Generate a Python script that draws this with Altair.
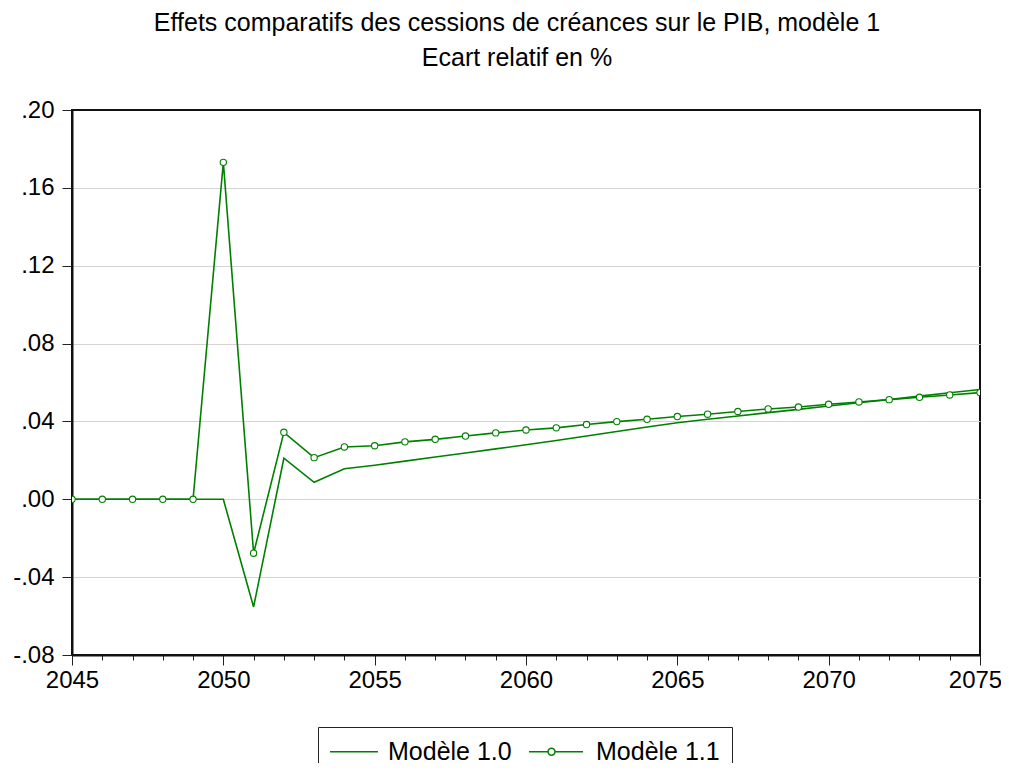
import altair as alt
import pandas as pd

years = list(range(2045, 2076))
modele_10 = [0.0, 0.0, 0.0, 0.0, 0.0, 0.0, -0.0553, 0.0211, 0.0087, 0.0157,
             0.0175, 0.0196, 0.0217, 0.0238, 0.0259, 0.0280, 0.0302, 0.0325, 0.0348, 0.0371,
             0.0393, 0.0411, 0.0428, 0.0445, 0.0462, 0.0479, 0.0496, 0.0513, 0.0530, 0.0547,
             0.0564]
modele_11 = [0.0, 0.0, 0.0, 0.0, 0.0, 0.1731, -0.0277, 0.0344, 0.0214, 0.0269,
             0.0275, 0.0295, 0.0308, 0.0325, 0.0341, 0.0356, 0.0367, 0.0384, 0.0399, 0.0411,
             0.0425, 0.0437, 0.0451, 0.0464, 0.0474, 0.0488, 0.0500, 0.0512, 0.0524, 0.0536,
             0.0548]
series_names = ["Modèle 1.0", "Modèle 1.1"]
y_ticks = [-0.08, -0.04, 0.0, 0.04, 0.08, 0.12, 0.16, 0.20]
title_lines = ["Effets comparatifs des cessions de créances sur le PIB, modèle 1",
               "Ecart relatif en %"]

df = pd.DataFrame({
    "annee": years + years,
    "valeur": modele_10 + modele_11,
    "serie": [series_names[0]] * len(years) + [series_names[1]] * len(years),
})

GREEN = "#008000"
FONT = "Liberation Sans"

x_enc = alt.X(
    "annee:Q",
    scale=alt.Scale(domain=[2045, 2075], nice=False, zero=False),
    axis=alt.Axis(
        values=years, title=None, grid=False, format="d",
        labelExpr="datum.value % 5 === 0 ? datum.label : ''",
        tickSize={"condition": {"test": "datum.value % 5 === 0", "value": 10}, "value": 5},
        labelOffset={"condition": {"test": "datum.value === 2075", "value": -5}, "value": 0},
        labelFontSize=24, labelFont=FONT, labelColor="black",
        labelOverlap=False, labelFlush=False, labelPadding=3,
        tickColor="#222222", domainColor="#111111", tickWidth=1, domainWidth=2,
    ),
)
y_enc = alt.Y(
    "valeur:Q",
    scale=alt.Scale(domain=[-0.08, 0.20], nice=False, zero=False),
    axis=alt.Axis(
        values=y_ticks, title=None, grid=True, gridColor="#d4d4d4", gridWidth=1,
        gridOpacity={"condition": {"test": "datum.value > 0.19 || datum.value < -0.07", "value": 0}, "value": 1},
        labelExpr="(datum.value < -0.0001 ? '-' : '') + replace(format(abs(datum.value), '.2f'), '0.', '.')",
        labelFontSize=24, labelFont=FONT, labelColor="black", labelPadding=8,
        tickSize=10, tickColor="#222222", domainColor="#111111", tickWidth=1, domainWidth=2,
        labelOverlap=False, labelFlush=False,
    ),
)

base = alt.Chart(df)

lines = base.mark_line(strokeWidth=1.6, clip=True, color=GREEN).encode(
    x=x_enc, y=y_enc, detail="serie:N"
)

points = base.transform_filter(
    alt.datum.serie == series_names[1]
).mark_point(
    filled=True, fill="white", stroke=GREEN, strokeWidth=1.1, size=40, opacity=1, clip=True
).encode(x=x_enc, y=y_enc)

# legend symbols: unit = 6 px (symbolSize 144)
r = 0.58
cx = 0.17
path_line = "M-2.083,0H5.917"
path_line_circle = (
    f"M-3.583,0H{cx - r:.2f}M{cx + r:.2f},0H5.417"
    f"M{cx - r:.2f},0A{r},{r} 0 1,1 {cx + r:.2f},0A{r},{r} 0 1,1 {cx - r:.2f},0Z"
)

legend_layer = base.transform_filter("false").mark_point(
    color=GREEN, filled=False, strokeWidth=1.5, opacity=1
).encode(
    shape=alt.Shape(
        "serie:N",
        scale=alt.Scale(domain=series_names, range=[path_line, path_line_circle]),
        legend=alt.Legend(
            title=None, orient="none", legendX=246, legendY=617,
            direction="horizontal", columns=2,
            labelFont=FONT, labelFontSize=25, labelColor="black",
            symbolSize=144, symbolStrokeColor=GREEN, symbolStrokeWidth=1.5,
            symbolFillColor="white", symbolOpacity=1,
            strokeColor="#222222", fillColor="white", padding=12,
            labelOffset=33, columnPadding=14,
        ),
    )
)

chart = alt.layer(lines, points, legend_layer).properties(
    width=908,
    height=545,
    background="white",
    autosize=alt.AutoSizeParams(type="none"),
    padding={"left": 64, "top": 102, "right": 21, "bottom": 108},
    title=alt.TitleParams(
        text=title_lines, font=FONT, fontSize=25, fontWeight="normal",
        color="black", anchor="middle", lineHeight=35, offset=2,
        baseline="bottom", dx=-9,
    ),
).configure_view(
    stroke="#111111", strokeWidth=2
)

chart.save("out.html", embed_options={"renderer": "svg", "actions": False})
